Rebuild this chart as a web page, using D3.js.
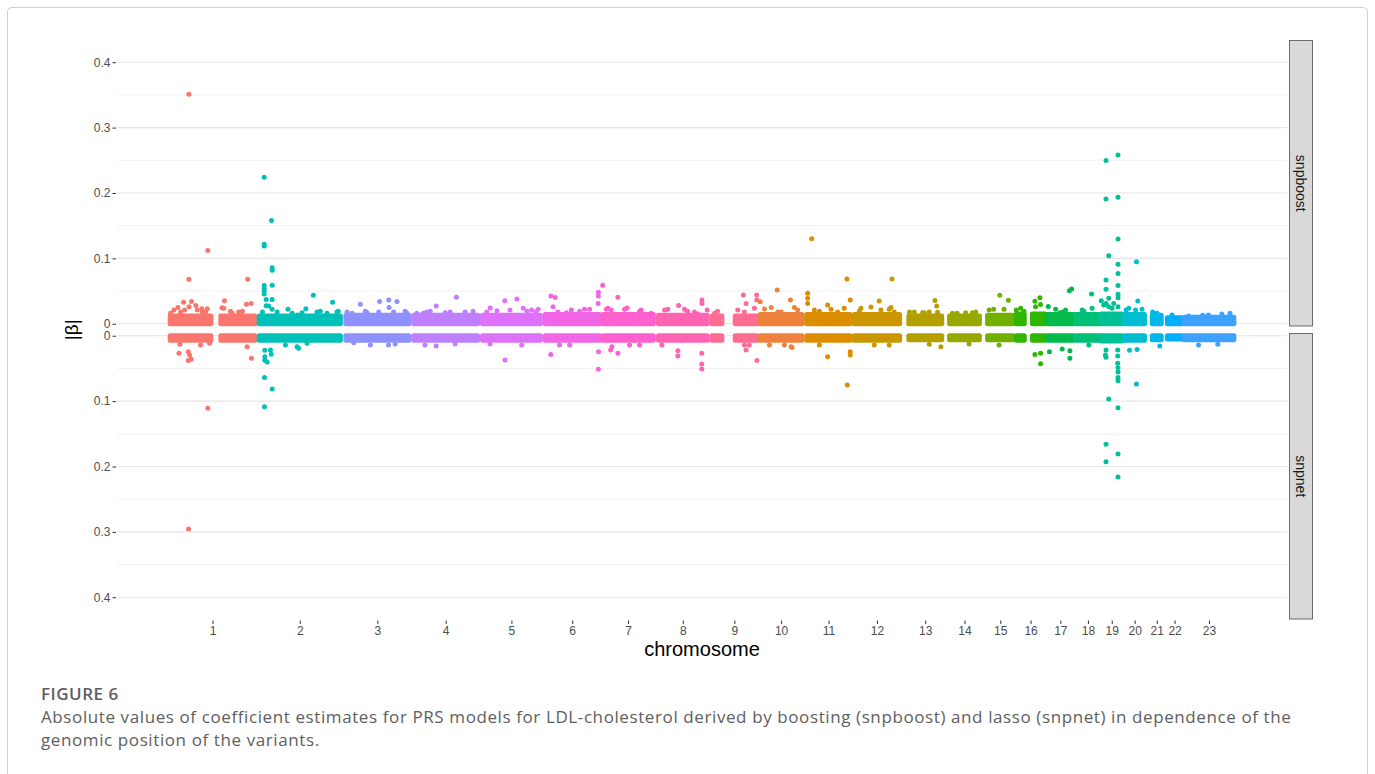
<!DOCTYPE html>
<html>
<head>
<meta charset="utf-8">
<script src="https://cdn.jsdelivr.net/npm/d3@7"></script>
<style>
  html, body { margin: 0; padding: 0; background: #fff; }
  svg { display: block; }
</style>
</head>
<body>
<svg id="chart" width="1375" height="774"></svg>
<script>

// ---- data -------------------------------------------------------------

const chromosomes = ["1","2","3","4","5","6","7","8","9","10","11","12",
                     "13","14","15","16","17","18","19","20","21","22","23"];

// chromosome lengths on the genome axis (Mb)
const chrLengthMb = [256, 250, 199, 201, 183, 172, 159, 156, 146, 131, 140, 146,
                     125, 111, 92, 92, 83, 77, 66, 68, 51, 52, 156];

// stretches of each chromosome covered by variants (Mb)
const chrSegmentsMb = [
  [[1, 120], [149, 248]], [[5, 242]], [[8, 192]], [[7, 194]], [[7, 176]],
  [[7, 165]], [[3, 151]], [[7, 149]], [[7, 36], [75, 138]], [[2, 124]],
  [[7, 134]], [[6, 138]], [[19, 115]], [[13, 100]], [[13, 87]],
  [[5, 28], [52, 88]], [[4, 79]], [[4, 74]], [[1, 62]], [[4, 61]],
  [[16, 42]], [[9, 51]], [[6, 151]]
];

// upper edge of the dense cloud of small |beta| per chromosome
const bandSnpboost = [0.012, 0.012, 0.013, 0.013, 0.013, 0.014, 0.014, 0.013, 0.012, 0.014, 0.014, 0.014,
                      0.012, 0.012, 0.013, 0.015, 0.014, 0.014, 0.015, 0.014, 0.013, 0.009, 0.010];
const bandSnpnet   = [0.007, 0.007, 0.007, 0.007, 0.007, 0.007, 0.007, 0.007, 0.007, 0.007, 0.007, 0.007,
                      0.006, 0.006, 0.006, 0.007, 0.007, 0.007, 0.008, 0.007, 0.006, 0.005, 0.006];

// [chromosome, position (Mb), |beta|] for the variants outside the cloud
const snpboostPoints = [
  [1,55.6,0.351],[1,110.9,0.112],[1,55.6,0.068],[1,227.4,0.068],[1,40.2,0.033],[1,63.5,0.034],
  [1,76,0.028],[1,23.6,0.025],[1,56.2,0.026],[1,93.4,0.023],[1,109.2,0.023],[1,159.5,0.035],
  [1,152.3,0.0245],[1,223.6,0.030],[1,237.2,0.031],[1,211.9,0.019],[1,94.6,0.018],[1,2.3,0.016],
  [1,43.1,0.021],[1,177,0.019],[1,11.9,0.021],[1,31.4,0.018],[1,80,0.021],[1,104.2,0.018],
  [1,157.5,0.0236],[1,182,0.016],[1,201,0.018],
  [2,19.5,0.224],[2,40.8,0.158],[2,19.5,0.1215],[2,19.5,0.119],[2,42.8,0.0857],[2,42.8,0.082],
  [2,42.8,0.059],[2,19.5,0.0585],[2,19.5,0.054],[2,19.5,0.050],[2,19.5,0.0455],[2,25.3,0.037],
  [2,42.8,0.037],[2,25.3,0.0276],[2,32.9,0.027],[2,42.8,0.022],[2,88.8,0.022],[2,141.2,0.023],
  [2,163,0.0435],[2,219.2,0.033],[2,117.3,0.0134],[2,14.6,0.018],[2,183.4,0.019],[2,235.8,0.019],
  [2,57.3,0.018],[2,101,0.016],[2,130,0.017],[2,173.8,0.018],[2,203,0.016],[2,232,0.018],
  [3,50.4,0.030],[3,106.5,0.034],[3,133.3,0.0363],[3,157.2,0.034],[3,104.2,0.018],[3,134.2,0.025],
  [3,26.2,0.016],[3,64.9,0.019],[3,181.4,0.019],[3,11.6,0.018],[3,70,0.017],[3,147.3,0.018],[3,186.3,0.016],
  [4,131.9,0.0405],[4,72.8,0.027],[4,35.8,0.016],[4,99,0.017],[4,157.2,0.018],[4,55.3,0.019],[4,180.5,0.019],
  [4,16.6,0.016],[4,45.7,0.018],[4,113.5,0.018],
  [5,29.7,0.024],[5,49.5,0.020],[5,72.2,0.035],[5,107.7,0.038],[5,136.8,0.019],[5,163,0.0185],
  [5,19.5,0.018],[5,87.3,0.021],[5,126,0.0236],[5,150.5,0.021],[5,169.7,0.022],
  [6,23.9,0.0424],[6,36.4,0.040],[6,30,0.026],[6,69,0.017],[6,107.7,0.019],[6,136.8,0.022],
  [6,162.4,0.048],[6,162.4,0.0424],[6,161.6,0.031],[6,44.5,0.018],[6,83.5,0.021],[6,122,0.022],
  [7,3,0.0588],[7,47.2,0.0405],[7,13.7,0.022],[7,27.7,0.021],[7,74.2,0.024],[7,110.6,0.019],[7,144.7,0.016],
  [7,18.3,0.0236],[7,67,0.022],[7,115.5,0.021],
  [8,34.3,0.022],[8,65.5,0.028],[8,133.9,0.0363],[8,133.9,0.031],[8,149,0.021],[8,121.7,0.015],[8,91.7,0.019],
  [8,24.7,0.021],[8,83,0.022],[8,112,0.018],
  [9,99,0.044],[9,137.7,0.044],[9,106.8,0.031],[9,137.7,0.0363],[9,131,0.0236],[9,101.9,0.018],[9,23.3,0.019],
  [9,14.6,0.016],[9,82.4,0.021],
  [10,51.5,0.0516],[10,90.2,0.0363],[10,34.1,0.025],[10,2,0.0337],[10,63.2,0.018],[10,101.9,0.025],[10,14.6,0.0225],
  [10,53.3,0.018],[10,111.5,0.021],
  [11,21.3,0.130],[11,124.3,0.0684],[11,9.6,0.0465],[11,9.6,0.039],[11,9.6,0.031],[11,67.8,0.0287],
  [11,133.9,0.0363],[11,96.9,0.018],[11,43.7,0.019],[11,29,0.021],[11,77.7,0.022],[11,116.4,0.0236],
  [12,115.9,0.0684],[12,78.6,0.0348],[12,54.4,0.0256],[12,112.7,0.025],[12,122.3,0.018],[12,20.4,0.019],
  [12,25.3,0.0236],[12,83.5,0.021],[12,107.7,0.022],
  [13,95.2,0.0355],[13,100.4,0.027],[13,102.8,0.0177],[13,34.9,0.018],[13,64,0.017],
  [13,21,0.018],[13,59,0.017],[13,78.6,0.018],
  [14,79.5,0.017],[14,89.4,0.018],[14,34.9,0.016],[14,21.3,0.016],[14,60,0.017],
  [15,48.6,0.0435],[15,73.6,0.036],[15,30.6,0.022],[15,17.5,0.021],[15,61,0.022],
  [16,59.1,0.0345],[16,73.6,0.0398],[16,75.7,0.0294],[16,4.7,0.021],[16,27.1,0.019],
  [16,17.5,0.0236],[16,61,0.026],
  [17,67.8,0.0505],[17,74.2,0.053],[17,6.1,0.0265],[17,48.9,0.018],[17,40.2,0.017],
  [17,27.7,0.022],[17,56.8,0.021],
  [18,49.5,0.0455],[18,27.1,0.019],[18,22,0.021],[18,51.2,0.0236],
  [19,14.8,0.2496],[19,49.8,0.258],[19,14.8,0.191],[19,49.8,0.1934],[19,49.8,0.1296],[19,22.7,0.104],
  [19,49.8,0.0909],[19,49.8,0.077],[19,14.8,0.0669],[19,49.8,0.0585],[19,14.8,0.0527],[19,49.8,0.045],
  [19,49.8,0.0398],[19,22.7,0.039],[19,1,0.035],[19,14.8,0.031],[19,49.8,0.026],[19,22.7,0.026],[19,37.3,0.031],
  [19,8.2,0.0287],[19,32.3,0.0236],
  [20,37.8,0.0949],[20,41.6,0.0348],[20,7.6,0.021],[20,15.4,0.0236],[20,35,0.021],[20,54,0.022],
  [21,30,0.016],[21,17,0.018],
  [22,22.7,0.0134],
  [23,60,0.013],[23,140,0.016],[23,19,0.012],[23,77,0.0134],[23,116,0.015]
];

const snpnetPoints = [
  [1,54.7,0.2956],[1,110.9,0.111],[1,26.5,0.0268],[1,53.9,0.0244],[1,57.6,0.0294],[1,53.9,0.038],
  [1,62.6,0.036],[1,238.1,0.0345],[1,29.4,0.013],[1,115.9,0.0115],[1,225.6,0.0167],[1,89.7,0.014],
  [2,21.3,0.022],[2,37.8,0.0218],[2,21.3,0.032],[2,39.9,0.0284],[2,21.3,0.0375],[2,28.2,0.040],
  [2,20.4,0.064],[2,42.8,0.0814],[2,20.4,0.1085],[2,115.6,0.0167],[2,144.7,0.0115],[2,120.2,0.0192],
  [2,81.5,0.014],
  [3,30.9,0.0106],[3,132.7,0.0141],[3,79.5,0.014],[3,152,0.0126],
  [4,72.8,0.0157],[4,128.1,0.0126],[4,40,0.014],
  [5,72.8,0.037],[5,121.4,0.014],[5,29.1,0.0126],
  [6,23.3,0.0287],[6,163,0.0244],[6,162.4,0.0513],[6,78.6,0.014],[6,49,0.014],
  [7,26.2,0.0218],[7,30,0.0167],[7,47.5,0.0268],[7,110.6,0.014],[7,81.5,0.014],
  [8,63.5,0.031],[8,63.5,0.0229],[8,133.3,0.0268],[8,133.3,0.0432],[8,133.3,0.0508],[8,16.9,0.014],
  [9,106.8,0.0218],[9,138.3,0.038],[9,101.9,0.014],[9,116,0.014],
  [10,92.3,0.0167],[10,95.2,0.018],[10,29.1,0.014],[10,72.8,0.014],
  [11,67.8,0.032],[11,133.9,0.0244],[11,133.9,0.0294],[11,125.2,0.0753],[11,43.7,0.014],
  [12,64,0.014],[12,107.7,0.014],
  [13,112.7,0.0167],[13,78.6,0.013],
  [14,69.9,0.0126],
  [15,46.6,0.014],
  [16,75.7,0.0268],[16,75.7,0.043],[16,59.1,0.0287],
  [17,9.6,0.0244],[17,46.9,0.0203],[17,69.3,0.0229],[17,69.3,0.0345],
  [18,41.6,0.014],
  [19,13.1,0.0294],[19,14.8,0.033],[19,48.9,0.0218],[19,48.9,0.031],[19,48.9,0.042],[19,49.8,0.049],
  [19,49.8,0.0555],[19,49.8,0.064],[19,49.8,0.069],[19,22.7,0.0967],[19,49.8,0.110],[19,14.8,0.166],
  [19,14.8,0.1926],[19,49.8,0.181],[19,49.8,0.216],[19,14.8,0.0218],
  [20,17.5,0.0223],[20,39.6,0.021],[20,37.8,0.0738],
  [21,37.8,0.0157],
  [23,104.2,0.013],[23,48,0.014]
];

const facets = ["snpboost", "snpnet"];
const yTicks = [0, 0.1, 0.2, 0.3, 0.4];
const yMinorTicks = [0.05, 0.15, 0.25, 0.35];
const yLimits = [-0.0042, 0.434];

const captionTitle = "FIGURE 6";
const captionLines = [
  "Absolute values of coefficient estimates for PRS models for LDL-cholesterol derived by boosting (snpboost) and lasso (snpnet) in dependence of the",
  "genomic position of the variants."
];

// ---- helpers ----------------------------------------------------------

// R's hcl(h, c, l): polar LUV -> sRGB, as used by ggplot's hue palette
function hclLuv(h, c, l) {
  let hr = h * Math.PI / 180,
      U = c * Math.cos(hr), V = c * Math.sin(hr),
      Xn = 95.047, Yn = 100, Zn = 108.883,
      un = 4 * Xn / (Xn + 15 * Yn + 3 * Zn),
      vn = 9 * Yn / (Xn + 15 * Yn + 3 * Zn),
      Y = l > 8 ? Yn * Math.pow((l + 16) / 116, 3) : Yn * l / 903.3,
      u = U / (13 * l) + un,
      v = V / (13 * l) + vn,
      X = Y * 9 * u / (4 * v),
      Z = Y * (12 - 3 * u - 20 * v) / (4 * v);
  let x = X / 100, y = Y / 100, z = Z / 100;
  let lin = [
     3.240479 * x - 1.537150 * y - 0.498535 * z,
    -0.969256 * x + 1.875992 * y + 0.041556 * z,
     0.055648 * x - 0.204043 * y + 1.057311 * z
  ];
  let [r, g, b] = lin.map(t => {
    t = t <= 0.0031308 ? 12.92 * t : 1.055 * Math.pow(t, 1 / 2.4) - 0.055;
    return Math.round(255 * Math.max(0, Math.min(1, t)));
  });
  return d3.rgb(r, g, b).formatHex();
}

// factor levels sort as strings in R, so hue follows "1","10","11",...
let levels = chromosomes.slice().sort();
let colour = d3.scaleOrdinal()
  .domain(levels)
  .range(levels.map((_, i) => hclLuv(15 + 360 * i / levels.length, 100, 65)));

// cumulative genome offsets
let offsets = d3.cumsum([0].concat(chrLengthMb.slice(0, -1)));
let offsetOf = chr => offsets[chromosomes.indexOf(String(chr))];

let spans = chromosomes.map((c, i) => ({
  chr: c,
  segments: chrSegmentsMb[i].map(s => [offsets[i] + s[0], offsets[i] + s[1]]),
  bands: { snpboost: bandSnpboost[i], snpnet: bandSnpnet[i] }
}));
spans.forEach(d => {
  let lo = d3.min(d.segments, s => s[0]), hi = d3.max(d.segments, s => s[1]);
  d.centre = (lo + hi) / 2;
});

let xMin = d3.min(spans, d => d.segments[0][0]),
    xMax = d3.max(spans, d => d.segments[d.segments.length - 1][1]),
    xPad = (xMax - xMin) * 0.05;

// ---- layout -----------------------------------------------------------

const panelLeft = 117, panelRight = 1287;
const panels = {
  snpboost: { top: 40,  bottom: 326.5, reversed: false },
  snpnet:   { top: 333, bottom: 619.5, reversed: true }
};

let x = d3.scaleLinear()
  .domain([xMin - xPad, xMax + xPad])
  .range([panelLeft, panelRight]);

let yScale = facet => {
  let p = panels[facet];
  return d3.scaleLinear()
    .domain(yLimits)
    .range(p.reversed ? [p.top, p.bottom] : [p.bottom, p.top]);
};

let svg = d3.select("#chart");

svg.append("rect")
  .attr("x", 7.5).attr("y", 7.5)
  .attr("width", 1360).attr("height", 820)
  .attr("rx", 4)
  .attr("fill", "#fff")
  .attr("stroke", "#cfcfcf");

let r = 2.5;

facets.forEach(facet => {

  let p = panels[facet],
      y = yScale(facet),
      g = svg.append("g").classed("panel " + facet, true),
      points = facet === "snpboost" ? snpboostPoints : snpnetPoints;

  // grid
  g.append("g").selectAll("line.minor")
    .data(yMinorTicks)
    .enter().append("line")
      .attr("x1", panelLeft).attr("x2", panelRight)
      .attr("y1", d => y(d)).attr("y2", d => y(d))
      .attr("stroke", "#ededed")
      .attr("stroke-width", 0.8);

  g.append("g").selectAll("line.major")
    .data(yTicks)
    .enter().append("line")
      .attr("x1", panelLeft).attr("x2", panelRight)
      .attr("y1", d => y(d)).attr("y2", d => y(d))
      .attr("stroke", "#e6e6e6")
      .attr("stroke-width", 1.2);

  // y axis
  let axis = d3.axisLeft(y)
    .tickValues(yTicks)
    .tickFormat(d => d === 0 ? "0" : d3.format(".1f")(d))
    .tickSize(3.5)
    .tickPadding(2);

  g.append("g")
    .attr("transform", `translate(${panelLeft - 1},0)`)
    .call(axis)
    .call(a => a.select(".domain").remove())
    .call(a => a.selectAll("line").attr("stroke", "#333"))
    .call(a => a.selectAll("text")
      .attr("fill", "#4d4d4d")
      .style("font-family", "'Liberation Sans', Arial, sans-serif")
      .style("font-size", "12px"));

  // dense cloud near zero, one block per covered stretch
  let cloud = spans.flatMap(d => d.segments.map(s => ({ chr: d.chr, s: s, top: d.bands[facet] })));

  g.append("g").selectAll("rect.cloud")
    .data(cloud)
    .enter().append("rect")
      .classed("cloud", true)
      .attr("x", d => x(d.s[0]) - r)
      .attr("width", d => x(d.s[1]) - x(d.s[0]) + 2 * r)
      .attr("y", d => Math.min(y(0), y(d.top)) - r)
      .attr("height", d => Math.abs(y(d.top) - y(0)) + 2 * r)
      .attr("rx", r)
      .attr("fill", d => colour(d.chr));

  // individual variants
  g.append("g").selectAll("circle")
    .data(points)
    .enter().append("circle")
      .attr("cx", d => x(offsetOf(d[0]) + d[1]))
      .attr("cy", d => y(d[2]))
      .attr("r", r)
      .attr("fill", d => colour(String(d[0])));

  // facet strip
  let strip = svg.append("g")
    .attr("transform", `translate(1289,${p.top})`);

  strip.append("rect")
    .attr("x", 0.5).attr("y", 0.5)
    .attr("width", 23).attr("height", p.bottom - p.top - 1)
    .attr("fill", "#d9d9d9")
    .attr("stroke", "#5e5e5e")
    .attr("stroke-width", 0.9);

  strip.append("text")
    .attr("transform", `translate(12,${(p.bottom - p.top) / 2}) rotate(90)`)
    .attr("text-anchor", "middle")
    .attr("dy", "0.35em")
    .attr("fill", "#1a1a1a")
    .style("font-family", "'Liberation Sans', Arial, sans-serif")
    .style("font-size", "14px")
    .text(facet);
});

// x axis under the lower panel
let xAxis = d3.axisBottom(x)
  .tickValues(spans.map(d => d.centre))
  .tickFormat((d, i) => spans[i].chr)
  .tickSize(3.5)
  .tickPadding(2);

svg.append("g")
  .attr("transform", `translate(0,${panels.snpnet.bottom + 1})`)
  .call(xAxis)
  .call(a => a.select(".domain").remove())
  .call(a => a.selectAll("line").attr("stroke", "#333"))
  .call(a => a.selectAll("text")
    .attr("fill", "#4d4d4d")
    .style("font-family", "'Liberation Sans', Arial, sans-serif")
    .style("font-size", "12px"));

svg.append("text")
  .attr("x", (panelLeft + panelRight) / 2)
  .attr("y", 656)
  .attr("text-anchor", "middle")
  .attr("fill", "#000")
  .style("font-family", "'Liberation Sans', Arial, sans-serif")
  .style("font-size", "20px")
  .text("chromosome");

svg.append("text")
  .attr("transform", `translate(78,${(panels.snpboost.top + panels.snpnet.bottom) / 2}) rotate(-90)`)
  .attr("text-anchor", "middle")
  .attr("fill", "#000")
  .style("font-family", "'Liberation Sans', Arial, sans-serif")
  .style("font-size", "19px")
  .text("|β|");

// caption
svg.append("text")
  .attr("x", 41).attr("y", 700)
  .attr("fill", "#5e5e5e")
  .style("font-family", "'Open Sans', 'Noto Sans', sans-serif")
  .style("font-size", "17px")
  .style("font-weight", 600)
  .style("letter-spacing", "0.5px")
  .text(captionTitle);

svg.append("g").selectAll("text")
  .data(captionLines)
  .enter().append("text")
    .attr("x", 41)
    .attr("y", (d, i) => 723 + i * 23)
    .attr("fill", "#5e5e5e")
    .style("font-family", "'Open Sans', 'Noto Sans', sans-serif")
    .style("font-size", "17px")
    .style("letter-spacing", "0.6px")
    .text(d => d);

</script>
</body>
</html>
